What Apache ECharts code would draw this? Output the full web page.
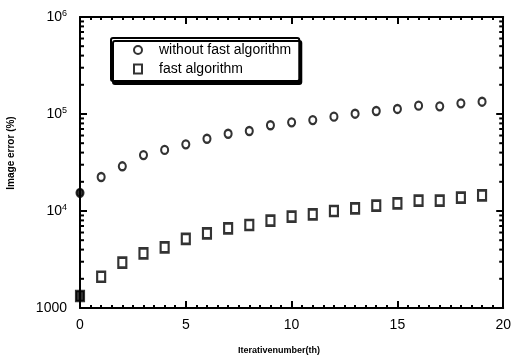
<!DOCTYPE html>
<html>
<head>
<meta charset="utf-8">
<script src="https://cdn.jsdelivr.net/npm/echarts@6/dist/echarts.min.js"></script>
<style>html,body{margin:0;padding:0;background:#fff;}#c{width:514px;height:361px;}</style>
</head>
<body>
<div id="c"></div>
<script>
var iterations = [0,1,2,3,4,5,6,7,8,9,10,11,12,13,14,15,16,17,18,19];
var withoutFast = [15400,22400,28900,37700,42600,48700,55600,62600,66800,76500,82100,86600,93800,100700,107400,112700,121900,120000,128900,133900];
var fastAlg = [1330,2100,2930,3660,4220,5150,5890,6630,7170,7950,8740,9250,10000,10660,11340,12000,12770,12770,13710,14520];
var xTicks = [0,5,10,15,20];
var yTickLabels = {1000:'1000', 10000:'10^4', 100000:'10^5', 1000000:'10^6'};
var logMinorTicks = [2000,3000,4000,5000,6000,7000,8000,9000,20000,30000,40000,50000,60000,70000,80000,90000,200000,300000,400000,500000,600000,700000,800000,900000];
var seriesNames = ['without fast algorithm','fast algorithm'];
var xTitle = 'Iterativenumber(th)';
var yTitle = 'Image error (%)';

var FONT = '"Liberation Sans", Arial, sans-serif';
var NARROW = '"Liberation Sans Narrow", "Liberation Sans", Arial, sans-serif';
var chart = echarts.init(document.getElementById('c'), null, {renderer:'canvas'});

function yLabel(v){
  var s = yTickLabels[Math.round(v)];
  if (!s) return '';
  if (s.indexOf('^') > 0) { var p = s.split('^'); return '{b|' + p[0] + '}{s|' + p[1] + '}'; }
  return '{b|' + s + '}';
}
var richLbl = {
  b:{fontFamily:FONT,fontSize:14,color:'#000'},
  s:{fontFamily:FONT,fontSize:9,color:'#000',padding:[0,0,7,0]}
};

function pts(arr){
  return arr.map(function(v,i){
    var d = {value:[iterations[i], v]};
    if (i === 0) d.itemStyle = {color:'#000'};
    return d;
  });
}

var axisLineStyle = {color:'#000', width:2};

var option = {
  animation:false,
  backgroundColor:'#fff',
  grid:{left:80, right:6, top:17, bottom:53},
  graphic:[
    {type:'text', left:238, top:346, style:{text:xTitle, font:'bold 9px ' + NARROW, fill:'#000'}},
    {type:'text', x:11, y:153, rotation:Math.PI/2, style:{text:yTitle, font:'bold 10px ' + NARROW, fill:'#000', align:'center', verticalAlign:'middle'}}
  ],
  legend:{
    orient:'vertical', left:111, top:38,
    data:[{name:seriesNames[0], icon:'circle'},{name:seriesNames[1], icon:'rect'}],
    itemWidth:8, itemHeight:9, itemGap:5,
    padding:[5,8,5,22],
    borderColor:'#000', borderWidth:2, borderRadius:2,
    backgroundColor:'#fff',
    shadowColor:'#000', shadowBlur:0, shadowOffsetX:2, shadowOffsetY:3,
    textStyle:{fontFamily:FONT, fontSize:14, color:'#000', padding:[0,0,0,12]},
    selectedMode:false
  },
  xAxis:[{
    type:'value', min:0, max:20, interval:5, position:'bottom',
    axisLine:{show:true, onZero:false, lineStyle:axisLineStyle},
    axisTick:{show:true, inside:true, length:7, lineStyle:{color:'#000', width:2}},
    minorTick:{show:true, splitNumber:10, length:3, lineStyle:{color:'#000', width:2}},
    axisLabel:{fontFamily:FONT, fontSize:14, color:'#000', margin:10},
    splitLine:{show:false}
  },{
    type:'value', min:0, max:20, interval:5, position:'top',
    axisLine:{show:true, onZero:false, lineStyle:axisLineStyle},
    axisTick:{show:true, inside:true, length:7, lineStyle:{color:'#000', width:2}},
    minorTick:{show:true, splitNumber:10, length:3, lineStyle:{color:'#000', width:2}},
    axisLabel:{show:false}, splitLine:{show:false}
  }],
  yAxis:[{
    type:'log', logBase:10, min:1000, max:1000000, position:'left',
    axisLine:{show:true, onZero:false, lineStyle:axisLineStyle},
    axisTick:{show:true, inside:true, length:7, lineStyle:{color:'#000', width:2}},
    axisLabel:{formatter:yLabel, rich:richLbl, margin:13},
    splitLine:{show:false}
  },{
    type:'log', logBase:10, min:1000, max:1000000, position:'right',
    axisLine:{show:true, onZero:false, lineStyle:axisLineStyle},
    axisTick:{show:true, inside:true, length:7, lineStyle:{color:'#000', width:2}},
    axisLabel:{show:false}, splitLine:{show:false}
  }],
  series:[{
    name:seriesNames[0], type:'scatter', symbol:'circle', symbolSize:[7,8],
    itemStyle:{color:'#fff', borderColor:'#000', borderWidth:2.2},
    data:pts(withoutFast), z:5
  },{
    name:seriesNames[1], type:'scatter', symbol:'rect', symbolSize:[8,10],
    itemStyle:{color:'#fff', borderColor:'#000', borderWidth:2.4},
    data:pts(fastAlg), z:5
  },{
    type:'custom', silent:true, z:4,
    data:logMinorTicks.map(function(v){return [0, v];}),
    renderItem:function(params, api){
      var v = api.value(1);
      var pl = api.coord([0, v]);
      var pr = api.coord([20, v]);
      return {type:'group', children:[
        {type:'line', shape:{x1:pl[0], y1:pl[1], x2:pl[0]+4, y2:pl[1]}, style:{stroke:'#000', lineWidth:2}},
        {type:'line', shape:{x1:pr[0], y1:pr[1], x2:pr[0]-4, y2:pr[1]}, style:{stroke:'#000', lineWidth:2}}
      ]};
    }
  }]
};
chart.setOption(option);
</script>
</body>
</html>
